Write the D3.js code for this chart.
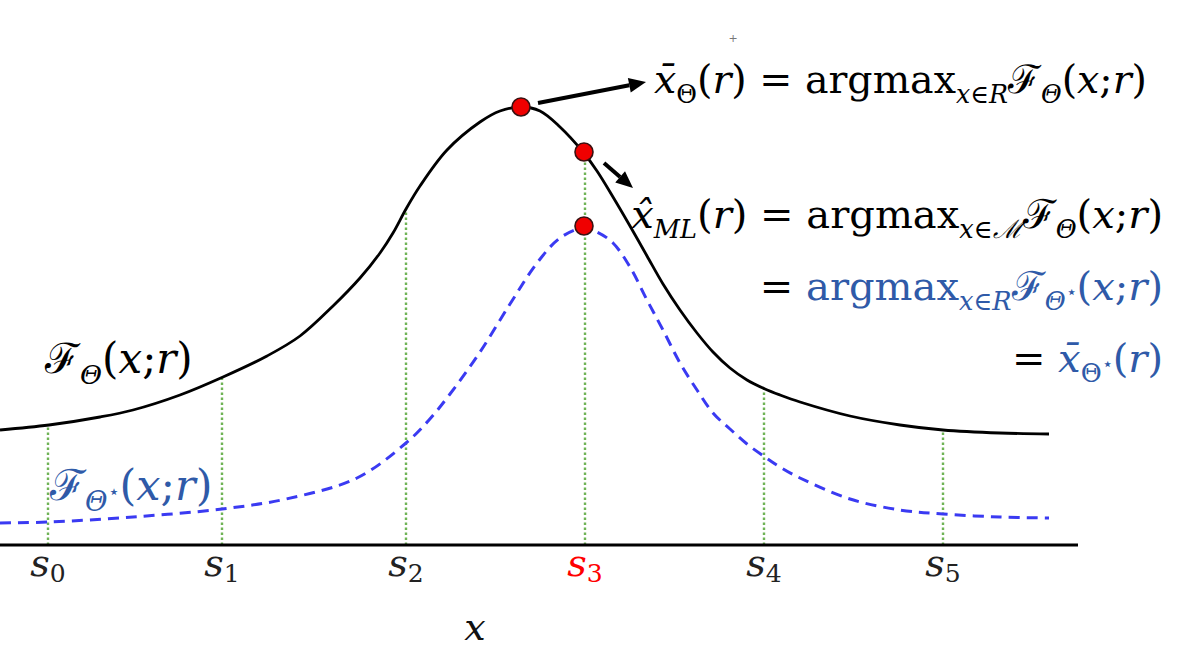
<!DOCTYPE html>
<html>
<head>
<meta charset="utf-8">
<script src="https://cdn.jsdelivr.net/npm/d3@7"></script>
<style>
  html, body { margin: 0; padding: 0; background: #fff; }
  svg { display: block; }
</style>
</head>
<body>
<svg id="chart" width="1181" height="657"></svg>
<script>
// ---- data (x and y in plot units) ----
const fThetaX = [0, 0.49, 1.00, 1.33, 1.80, 2.23, 2.67, 3.00, 3.33, 3.60, 3.80, 3.93, 4.06, 4.20, 4.47, 4.80, 5.00, 5.21, 5.40, 5.60, 5.83, 5.97, 6.13, 6.30, 6.47, 6.63, 6.80, 6.97, 7.13, 7.30, 7.47, 7.65, 7.80, 8.00, 8.50, 9.00, 9.43, 10.00, 10.49];
const fThetaY = [1.15, 1.20, 1.28, 1.35, 1.50, 1.68, 1.89, 2.09, 2.39, 2.67, 2.92, 3.12, 3.36, 3.59, 3.95, 4.23, 4.34, 4.38, 4.34, 4.18, 3.93, 3.74, 3.48, 3.19, 2.89, 2.61, 2.35, 2.12, 1.93, 1.77, 1.65, 1.56, 1.50, 1.43, 1.29, 1.20, 1.15, 1.12, 1.11];

const fStarX = [0, 0.49, 1.33, 2.22, 2.86, 3.57, 4.06, 4.29, 4.50, 4.80, 5.10, 5.37, 5.60, 5.83, 5.97, 6.13, 6.30, 6.47, 6.63, 6.80, 6.97, 7.13, 7.30, 7.47, 7.65, 7.80, 8.00, 8.50, 9.00, 9.43, 10.00, 10.49];
const fStarY = [0.22, 0.23, 0.28, 0.36, 0.46, 0.67, 1.02, 1.25, 1.51, 1.93, 2.41, 2.82, 3.07, 3.17, 3.13, 3.02, 2.78, 2.45, 2.15, 1.82, 1.55, 1.32, 1.16, 1.01, 0.88, 0.78, 0.67, 0.46, 0.35, 0.31, 0.28, 0.27];

const sLabels = ["0", "1", "2", "3", "4", "5"];
const sPos    = [0.48, 2.22, 4.06, 5.85, 7.64, 9.43];
const sTop    = [1.20, 1.68, 3.36, 3.93, 1.57, 1.15];
const sHighlight = [false, false, false, true, false, false];

const dotX = [5.21, 5.84, 5.84];
const dotY = [4.38, 3.93, 3.19];

// arrows: [x1, y1, x2, y2]
const arrows = [[5.38, 4.42, 6.46, 4.63], [6.04, 3.82, 6.33, 3.57]];

// ---- drawing ----
const svg = d3.select("#chart");
const x = d3.scaleLinear().domain([0, 11.81]).range([0, 1181]);
const y = d3.scaleLinear().domain([0, 5.45]).range([545, 0]);

const BLUE_TXT = "#2f5aa8";
const SERIF = "'DejaVu Serif', 'Liberation Serif', serif";

// green dotted verticals
svg.append("g").selectAll("line").data(sPos).join("line")
  .attr("x1", d => x(d)).attr("x2", d => x(d))
  .attr("y1", y(0)).attr("y2", (d, i) => y(sTop[i]))
  .attr("stroke", "#6fb356").attr("stroke-width", 2.4)
  .attr("stroke-dasharray", "2.4,2.6");

// curves
const lineGen = d3.line().x(d => x(d[0])).y(d => y(d[1])).curve(d3.curveCatmullRom.alpha(0.5));
svg.append("path")
  .attr("d", lineGen(fStarX.map((v, i) => [v, fStarY[i]])))
  .attr("fill", "none").attr("stroke", "#3a3af2").attr("stroke-width", 3)
  .attr("stroke-dasharray", "11,7");
svg.append("path")
  .attr("d", lineGen(fThetaX.map((v, i) => [v, fThetaY[i]])))
  .attr("fill", "none").attr("stroke", "#000").attr("stroke-width", 2.8);

// x axis line
svg.append("line").attr("x1", x(0)).attr("x2", x(10.78))
  .attr("y1", y(0)).attr("y2", y(0))
  .attr("stroke", "#000").attr("stroke-width", 3);

// s tick labels
const sl = svg.append("g").selectAll("text").data(sPos).join("text")
  .attr("x", d => x(d)).attr("y", 576)
  .attr("text-anchor", "middle")
  .style("font-family", SERIF)
  .attr("fill", (d, i) => sHighlight[i] ? "#ff0000" : "#222");
sl.append("tspan").text("s").style("font-style", "italic").style("font-size", "38px");
sl.append("tspan").text((d, i) => sLabels[i]).style("font-size", "25px").attr("dy", 6);

// axis title
svg.append("text").attr("x", 475).attr("y", 640).attr("text-anchor", "middle")
  .style("font-family", SERIF).style("font-style", "italic").style("font-size", "38px")
  .attr("fill", "#111").text("x");

// arrows
function arrow(a) {
  const x1 = x(a[0]), y1 = y(a[1]), x2 = x(a[2]), y2 = y(a[3]);
  const ang = Math.atan2(y2 - y1, x2 - x1);
  const hl = 17, hw = 7.5;
  const bx = x2 - hl * Math.cos(ang), by = y2 - hl * Math.sin(ang);
  svg.append("line").attr("x1", x1).attr("y1", y1).attr("x2", bx).attr("y2", by)
    .attr("stroke", "#000").attr("stroke-width", 4);
  const pts = [[x2, y2],
    [bx + hw * Math.sin(ang), by - hw * Math.cos(ang)],
    [bx - hw * Math.sin(ang), by + hw * Math.cos(ang)]];
  svg.append("polygon").attr("points", pts.map(p => p.join(",")).join(" ")).attr("fill", "#000");
}
arrows.forEach(arrow);

// red dots
svg.append("g").selectAll("circle").data(dotX).join("circle")
  .attr("cx", d => x(d)).attr("cy", (d, i) => y(dotY[i])).attr("r", 9)
  .attr("fill", "#f00000").attr("stroke", "#3a1010").attr("stroke-width", 1.6);

// rich text helper
function rich(px, py, anchor, size, color, segs) {
  const t = svg.append("text").attr("x", px).attr("y", py)
    .attr("text-anchor", anchor).style("font-family", SERIF)
    .style("font-size", size + "px").attr("fill", color);
  let cur = 0;
  segs.forEach(s => {
    const target = s.sub ? size * 0.26 : (s.sup ? -size * 0.05 : 0);
    const ts = t.append("tspan").text(s.t).attr("dy", target - cur);
    cur = target;
    if (s.sub) ts.style("font-size", (size * 0.64) + "px");
    if (s.sup) ts.style("font-size", (size * 0.45) + "px");
    if (s.it) ts.style("font-style", "italic");
    if (s.fill) ts.attr("fill", s.fill);
  });
  return t;
}

const FS = 40;
// formulas
rich(654, 93, "start", 39.5, "#000", [
  {t: "x\u0304", it: true}, {t: "\u0398", sub: true}, {t: "("}, {t: "r", it: true}, {t: ") = argmax"},
  {t: "x\u2208R", sub: true, it: true}, {t: "\u2131"}, {t: "\u0398", sub: true, it: true},
  {t: "("}, {t: "x", it: true}, {t: ";"}, {t: "r", it: true}, {t: ")"}
]);
rich(1163, 228, "end", FS, "#000", [
  {t: "x\u0302", it: true}, {t: "ML", sub: true, it: true}, {t: "("}, {t: "r", it: true}, {t: ") = argmax"},
  {t: "x\u2208\u2133", sub: true, it: true}, {t: "\u2131"}, {t: "\u0398", sub: true, it: true},
  {t: "("}, {t: "x", it: true}, {t: ";"}, {t: "r", it: true}, {t: ")"}
]);
rich(1163, 300, "end", FS, BLUE_TXT, [
  {t: "= ", fill: "#000"}, {t: "argmax"},
  {t: "x\u2208R", sub: true, it: true}, {t: "\u2131"}, {t: "\u0398", sub: true, it: true}, {t: "\u22c6", sup: true},
  {t: "("}, {t: "x", it: true}, {t: ";"}, {t: "r", it: true}, {t: ")"}
]);
rich(1163, 372, "end", FS, BLUE_TXT, [
  {t: "= ", fill: "#000"}, {t: "x\u0304", it: true}, {t: "\u0398", sub: true}, {t: "\u22c6", sup: true}, {t: "("}, {t: "r", it: true}, {t: ")"}
]);

// curve labels
rich(45, 373, "start", 42, "#000", [
  {t: "\u2131"}, {t: "\u0398", sub: true, it: true}, {t: "("}, {t: "x", it: true}, {t: ";"}, {t: "r", it: true}, {t: ")"}
]);
rich(50, 500, "start", 43, BLUE_TXT, [
  {t: "\u2131"}, {t: "\u0398", sub: true, it: true}, {t: "\u22c6", sup: true}, {t: "("}, {t: "x", it: true}, {t: ";"}, {t: "r", it: true}, {t: ")"}
]);

// small stray mark at top
svg.append("text").attr("x", 733).attr("y", 42).attr("text-anchor", "middle")
  .style("font-family", SERIF).style("font-size", "11px").attr("fill", "#777").text("+");
</script>
</body>
</html>
